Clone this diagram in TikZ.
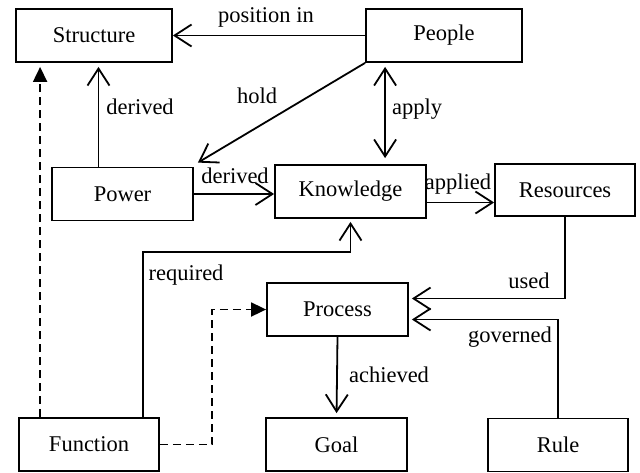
\documentclass[tikz,border=0pt]{standalone}
\usepackage{fontspec}
\setmainfont{Liberation Serif}
\usetikzlibrary{arrows.meta}

\begin{document}
\begin{tikzpicture}
        [x=1pt,y=-1pt,line width=1.8pt,font=\fontsize{22.5}{26}\selectfont,
         >={Straight Barb[length=17pt,width=22pt]},
         box/.style={draw,shape=rectangle,inner sep=0,minimum width=141pt,minimum height=53pt},
         lbl/.style={inner sep=0},
         dashedarrow/.style={dash pattern=on 8pt off 5pt,-{Triangle[length=15pt,width=14pt]}}]

        \useasboundingbox (0,0) rectangle (640,472);

        \node[box,minimum width=156pt] (structure) at (94, 35.5) {Structure};
        \node[box,minimum width=156pt] (people) at (444, 35.5) {People};
        \node[box] (power) at (122.5, 194) {Power};
        \node[box,minimum width=151pt] (knowledge) at (350.5, 191.5) {Knowledge};
        \node[box,minimum width=140pt,minimum height=52pt] (resources) at (565, 190) {Resources};
        \node[box] (process) at (337.5, 309.5) {Process};
        \node[box] (goal) at (336.5, 444.5) {Goal};
        \node[box,minimum width=140pt] (function) at (89, 444.5) {Function};
        \node[box,minimum width=140pt] (rule) at (558, 445) {Rule};

        \draw [->] (people.west) -- (structure.east);
        \draw [->] (people.south west) -- ([shift={(4,-4)}]power.north east);
        \draw [<->,shorten <=4pt,shorten >=6pt] ([xshift=20pt]people.south west) -- ([xshift=20pt]people.south west |- knowledge.north);
        \draw [->,shorten >=4pt] ([xshift=-24pt]power.north) -- ([xshift=-24pt]power.north |- structure.south);
        \draw [->] (power.east) -- (knowledge.west |- power.east);
        \draw [->] ([yshift=-11pt]knowledge.east) -- ([yshift=-11pt]knowledge.east -| resources.west);
        \draw [->,shorten >=3pt] ([xshift=-17pt]function.north east) |- ([yshift=-33pt]knowledge.south) -- (knowledge.south);
        \draw [->,shorten >=3pt] (resources.south) |- ([yshift=11pt]process.east);
        \draw [->,shorten >=3pt] (rule.north) |- ([yshift=-10pt]process.east);
        \draw [->,shorten >=4pt] (process.south) -- (goal.north);
        \draw [dashedarrow] (function.east) -- ++(52,0) |- (process.west);
        \draw [dashedarrow,shorten >=4pt] ([xshift=22pt]function.north west) -- ([xshift=22pt]function.north west |- structure.south);

        \node[lbl] (lposition) at (266, 17) {position in};
        \node[lbl] (lhold) at (257, 96) {hold};
        \node[lbl] (lderived1) at (140, 107) {derived};
        \node[lbl] (lderived2) at (235, 176) {derived};
        \node[lbl] (lapply) at (417, 109) {apply};
        \node[lbl] (lapplied) at (458, 184) {applied};
        \node[lbl] (lrequired) at (186, 275) {required};
        \node[lbl] (lused) at (529, 281) {used};
        \node[lbl] (lgoverned) at (510, 337) {governed};
        \node[lbl] (lachieved) at (389, 375) {achieved};

      \end{tikzpicture}
\end{document}
